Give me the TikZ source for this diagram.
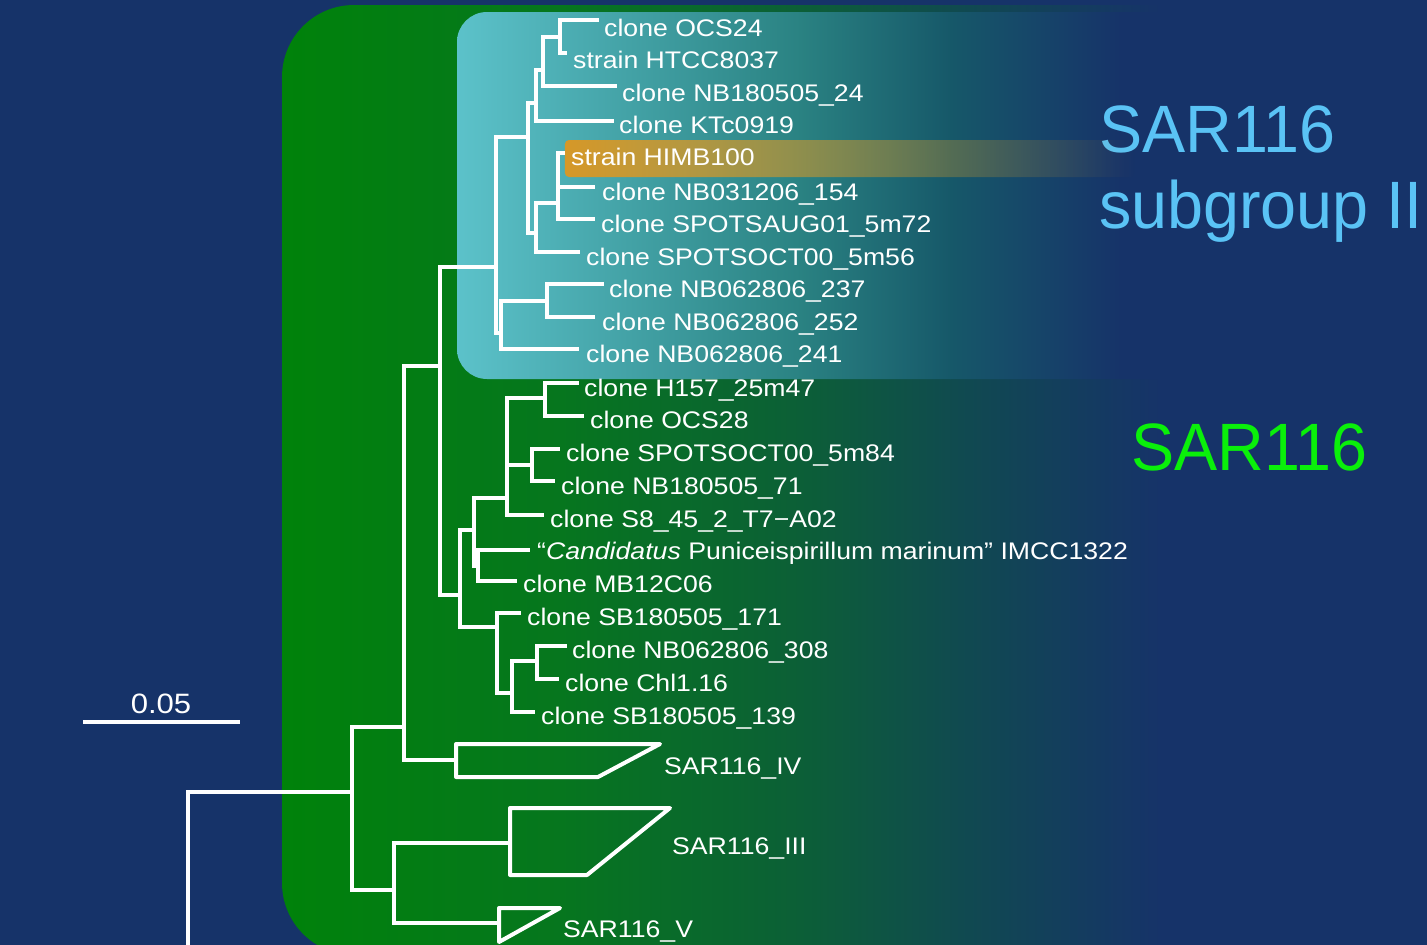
\documentclass[tikz,border=0pt]{standalone}
\usepackage{fontspec}
\setmainfont{Liberation Sans}
\newfontfamily\labfont[FakeStretch=1.11]{Liberation Sans}
\newfontfamily\bigfont[FakeStretch=0.965]{Liberation Sans}
\usetikzlibrary{fadings}
\definecolor{bgblue}{RGB}{22,51,105}
\definecolor{g0}{RGB}{0,130,10}
\definecolor{g1}{RGB}{6,118,30}
\definecolor{g2}{RGB}{12,95,55}
\definecolor{g3}{RGB}{16,74,80}
\definecolor{c0}{RGB}{92,194,202}
\definecolor{c1}{RGB}{42,130,130}
\definecolor{c2}{RGB}{22,88,105}
\definecolor{orangeb}{RGB}{214,152,40}
\definecolor{subblue}{RGB}{90,195,245}
\definecolor{brightgreen}{RGB}{10,240,10}
\tikzfading[name=fadeR, left color=transparent!0, right color=transparent!100]
\tikzset{
  br/.style={draw=white, line width=4.6pt, line cap=rect, line join=miter},
  clade/.style={draw=white, line width=4pt, line join=round},
  lab/.style={font=\labfont\fontsize{24}{28}\selectfont, text=white, inner sep=0pt, anchor=base west},
  sub/.style={font=\bigfont\fontsize{67}{76}\selectfont, text=subblue, inner sep=0pt, anchor=base west}
}
\begin{document}
\begin{tikzpicture}[x=1pt,y=-1pt]
\useasboundingbox (0,0) rectangle (1427,945);
\fill[bgblue] (0,0) rectangle (1427,945);
% SAR116 box
\begin{scope}
\clip[rounded corners=72pt] (282,5) rectangle (1500,955);
\shade[left color=g0, right color=g1] (281,0) rectangle (561,960);
\shade[left color=g1, right color=g2] (560,0) rectangle (801,960);
\shade[left color=g2, right color=g3] (800,0) rectangle (961,960);
\shade[left color=g3, right color=bgblue] (960,0) rectangle (1161,960);
\fill[bgblue] (1160,0) rectangle (1500,960);
\end{scope}
% subgroup II box
\begin{scope}
\clip[rounded corners=30pt] (457,12) rectangle (1500,379);
\shade[left color=c0, right color=c1] (456,0) rectangle (801,400);
\shade[left color=c1, right color=c2] (800,0) rectangle (951,400);
\shade[left color=c2, right color=bgblue] (950,0) rectangle (1121,400);
\fill[bgblue] (1120,0) rectangle (1500,400);
\end{scope}
% group labels
\node[sub] (sg1) at (1099,152) {SAR116};
\node[sub] (sg2) at (1099,228) {subgroup II};
\node[sub, text=brightgreen] (sg3) at (1131,470) {SAR116};
% highlight band
\fill[orangeb, path fading=fadeR, rounded corners=4pt] (565,140) rectangle (1135,177);
% scale bar
\coordinate (sb1) at (83,722);
\coordinate (sb2) at (240,722);
\draw[white, line width=4.6pt] (sb1) -- (sb2);
\node[font=\labfont\fontsize{28}{32}\selectfont, text=white, inner sep=0pt, anchor=base] (sbl) at (161,713) {0.05};
% internal nodes
\coordinate (R) at (188,792);
\coordinate (Rb) at (188,950);
\coordinate (Na) at (352,792);
\coordinate (Nb) at (404,727);
\coordinate (Nc) at (394,890);
\coordinate (N11) at (440,366);
\coordinate (IV) at (456,760);
\coordinate (III) at (510,843);
\coordinate (V) at (499,923);
\coordinate (N8) at (496,267);
\coordinate (N15) at (460,595);
\coordinate (N4) at (528,137);
\coordinate (N9) at (501,333);
\coordinate (N3) at (536,103);
\coordinate (N5) at (536,233);
\coordinate (N2) at (543,70);
\coordinate (N1) at (560,37);
\coordinate (N6) at (558,203);
\coordinate (N10) at (547,301);
\coordinate (N13) at (474,530);
\coordinate (N19) at (497,627);
\coordinate (N16) at (507,498);
\coordinate (N14) at (478,566);
\coordinate (N17) at (545,398);
\coordinate (N18) at (532,465);
\coordinate (N20) at (512,693);
\coordinate (N21) at (537,661);
% tips
\coordinate (t1) at (597,20);
\coordinate (t2) at (565,53);
\coordinate (t3) at (615,86);
\coordinate (t4) at (612,121);
\coordinate (t5) at (563,153);
\coordinate (t6) at (593,187);
\coordinate (t7) at (593,219);
\coordinate (t8) at (578,252);
\coordinate (t9) at (602,284);
\coordinate (t10) at (593,317);
\coordinate (t11) at (577,349);
\coordinate (t12) at (577,383);
\coordinate (t13) at (582,416);
\coordinate (t14) at (558,449);
\coordinate (t15) at (553,481);
\coordinate (t16) at (542,515);
\coordinate (t17) at (528,550);
\coordinate (t18) at (515,581);
\coordinate (t19) at (519,613);
\coordinate (t20) at (565,646);
\coordinate (t21) at (557,679);
\coordinate (t22) at (533,712);
% branches
\draw[br] (R) -- (Rb);
\draw[br] (R) |- (Na);
\draw[br] (Na) |- (Nb);
\draw[br] (Na) |- (Nc);
\draw[br] (Nb) |- (N11);
\draw[br] (Nb) |- (IV);
\draw[br] (Nc) |- (III);
\draw[br] (Nc) |- (V);
\draw[br] (N11) |- (N8);
\draw[br] (N11) |- (N15);
\draw[br] (N8) |- (N4);
\draw[br] (N8) |- (N9);
\draw[br] (N4) |- (N3);
\draw[br] (N4) |- (N5);
\draw[br] (N3) |- (N2);
\draw[br] (N3) |- (t4);
\draw[br] (N2) |- (N1);
\draw[br] (N2) |- (t3);
\draw[br] (N1) |- (t1);
\draw[br] (N1) |- (t2);
\draw[br] (N5) |- (N6);
\draw[br] (N5) |- (t8);
\draw[br] (N6) |- (t5);
\draw[br] (N6) |- (t6);
\draw[br] (N6) |- (t7);
\draw[br] (N9) |- (N10);
\draw[br] (N9) |- (t11);
\draw[br] (N10) |- (t9);
\draw[br] (N10) |- (t10);
\draw[br] (N15) |- (N13);
\draw[br] (N15) |- (N19);
\draw[br] (N13) |- (N16);
\draw[br] (N13) |- (N14);
\draw[br] (N16) |- (N17);
\draw[br] (N16) |- (N18);
\draw[br] (N16) |- (t16);
\draw[br] (N17) |- (t12);
\draw[br] (N17) |- (t13);
\draw[br] (N18) |- (t14);
\draw[br] (N18) |- (t15);
\draw[br] (N14) |- (t17);
\draw[br] (N14) |- (t18);
\draw[br] (N19) |- (t19);
\draw[br] (N19) |- (N20);
\draw[br] (N20) |- (N21);
\draw[br] (N20) |- (t22);
\draw[br] (N21) |- (t20);
\draw[br] (N21) |- (t21);
% collapsed clades
\draw[clade] (456,744) -- (660,744) -- (598,777) -- (456,777) -- cycle;
\draw[clade] (510,808) -- (670,808) -- (587,875) -- (510,875) -- cycle;
\draw[clade] (499,908) -- (560,908) -- (499,942) -- cycle;
% leaf labels
\node[lab] (l1) at (604,36.5) {clone OCS24};
\node[lab] (l2) at (573,68.5) {strain HTCC8037};
\node[lab] (l3) at (622,101.5) {clone NB180505\_24};
\node[lab] (l4) at (619,133.5) {clone KTc0919};
\node[lab] (l5) at (571,165.5) {strain HIMB100};
\node[lab] (l6) at (602,200.5) {clone NB031206\_154};
\node[lab] (l7) at (601,232.5) {clone SPOTSAUG01\_5m72};
\node[lab] (l8) at (586,265.5) {clone SPOTSOCT00\_5m56};
\node[lab] (l9) at (609,297.5) {clone NB062806\_237};
\node[lab] (l10) at (602,330.5) {clone NB062806\_252};
\node[lab] (l11) at (586,362.5) {clone NB062806\_241};
\node[lab] (l12) at (584,396.5) {clone H157\_25m47};
\node[lab] (l13) at (590,428.5) {clone OCS28};
\node[lab] (l14) at (566,461.5) {clone SPOTSOCT00\_5m84};
\node[lab] (l15) at (561,494.5) {clone NB180505\_71};
\node[lab] (l16) at (550,527.5) {clone S8\_45\_2\_T7−A02};
\node[lab] (l17) at (537,559.5) {“\textit{Candidatus} Puniceispirillum marinum” IMCC1322};
\node[lab] (l18) at (523,592.5) {clone MB12C06};
\node[lab] (l19) at (527,625.5) {clone SB180505\_171};
\node[lab] (l20) at (572,658.5) {clone NB062806\_308};
\node[lab] (l21) at (565,691.5) {clone Chl1.16};
\node[lab] (l22) at (541,724.5) {clone SB180505\_139};
\node[lab] (l23) at (664,774.5) {SAR116\_IV};
\node[lab] (l24) at (672,854.5) {SAR116\_III};
\node[lab] (l25) at (563,937.5) {SAR116\_V};
\end{tikzpicture}
\end{document}
